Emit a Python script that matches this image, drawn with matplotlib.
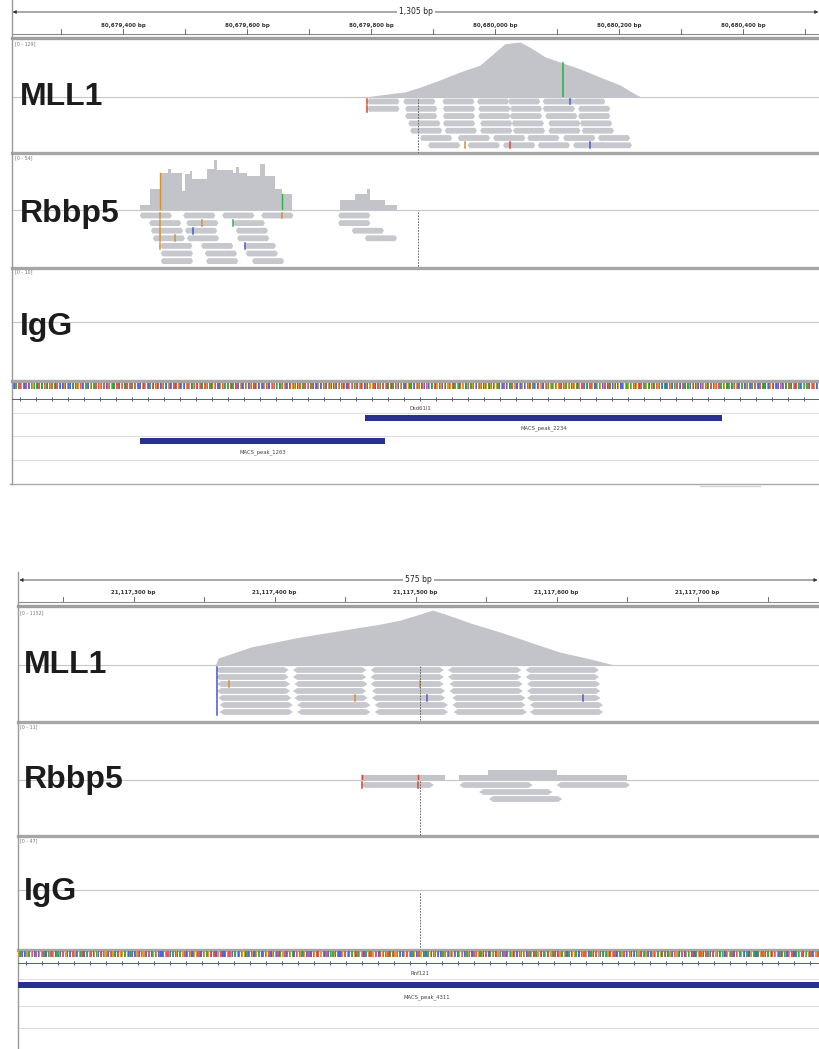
import numpy as np
import matplotlib.pyplot as plt
from matplotlib.patches import Polygon

W, H = 819, 1049
COV = "#c2c4c9"
READ = "#c6c8cd"
FEAT = "#27318f"
SEP = "#a6a6a6"
BASE = "#c6c6c6"
BASE_COLORS = {"A": "#3fa84a", "C": "#5566d4", "G": "#dc9a3a", "T": "#e25a5a"}
MM = {"r": "#e0452c", "b": "#4a5ad0", "g": "#2fb34a", "o": "#d8902e", "k": "#777777"}
SEQ = ("GATCCTGAAGTCATCGGTACCAGTTGCAAGCTTGGCACTAGCTGATCCAAGTTCGAGCTCAGG"
       "TCTAGACCTGTGAAGCATCCAGTCTGGACTTCAGAGCTCCAGTTGCATAGCTAGGTCAAGCTG")

# ---------------- top locus ----------------
TOP_START = 80_679_221
TOP_PPB = 0.62
top_span_label = "1,305 bp"
top_tick_labels = [80_679_400, 80_679_600, 80_679_800, 80_680_000, 80_680_200, 80_680_400]
top_ranges = ["[0 - 129]", "[0 - 54]", "[0 - 10]"]
top_range_max = [129, 54, 10]

# MLL1 coverage (bp offset from TOP_START, depth)
mll1_top_pos = [570, 600, 634, 658, 690, 723, 755, 779, 795, 819, 835, 860, 884, 916, 948, 981, 1005, 1015]
mll1_top_cov = [0, 6, 12, 23, 40, 59, 75, 105, 125, 129, 117, 94, 82, 66, 47, 28, 7, 0]
mll1_top_reads = [
    [573, 631, 694, 750, 800, 856, 905],
    [573, 634, 695, 752, 803, 856, 913],
    [634, 695, 752, 803, 860, 913],
    [639, 695, 755, 806, 865, 916],
    [642, 698, 755, 808, 865, 919],
    [658, 719, 776, 831, 889, 945],
    [671, 735, 792, 848, 905, 948],
]
mll1_top_snv = [(889, 80, "g")]
mll1_top_mm = [(573, 0, "r"), (573, 1, "r"), (900, 0, "b"), (731, 6, "o"), (803, 6, "r"), (932, 6, "b")]

# Rbbp5 coverage (step edges, depth)
rbbp5_top_edges = [206, 223, 239, 251, 256, 274, 279, 287, 291, 315, 325, 330, 356, 362, 366, 379, 400, 408, 424, 435, 452]
rbbp5_top_cov = [5, 22, 38, 43, 38, 20, 37, 41, 32, 43, 52, 42, 38, 45, 38, 35, 48, 35, 22, 17]
rbbp5_top_edges2 = [529, 553, 573, 577, 602, 621]
rbbp5_top_cov2 = [10, 17, 22, 10, 5]
rbbp5_top_reads = [
    [206, 276, 339, 402, 526],
    [221, 281, 356, 526],
    [224, 279, 361, 548],
    [227, 282, 363, 569],
    [239, 305, 374],
    [240, 311, 377],
    [240, 313, 387],
]
rbbp5_top_snv = [(435, 17, "g"), (239, 38, "o")]
rbbp5_top_mm = [(239, 0, "o"), (239, 1, "o"), (239, 2, "o"), (239, 3, "o"), (239, 4, "o"),
                (435, 0, "o"), (356, 1, "g"), (307, 1, "o"), (292, 2, "b"), (263, 3, "o"), (375, 4, "b")]
top_marker_bp = 655

top_gene = "Dsd61l1"
top_peaks = [("MACS_peak_2234", 569, 1145, 418, 428), ("MACS_peak_1263", 206, 602, 441, 452)]

# ---------------- bottom locus ----------------
BOT_START = 21_117_218
BOT_PPB = 1.41
bot_span_label = "575 bp"
bot_tick_labels = [21_117_300, 21_117_400, 21_117_500, 21_117_600, 21_117_700]
bot_ranges = ["[0 - 1152]", "[0 - 11]", "[0 - 47]"]
bot_range_max = [1152, 11, 47]

mll1_bot_pos = [140, 142, 165, 200, 235, 257, 271, 285, 294, 303, 321, 342, 363, 384, 406, 423]
mll1_bot_cov = [0, 146, 376, 585, 752, 857, 940, 1066, 1150, 1066, 878, 690, 481, 272, 125, 0]
mll1_bot_reads = [
    [140, 195, 250, 305, 360],
    [140, 195, 250, 305, 360],
    [141, 196, 250, 306, 361],
    [141, 195, 251, 306, 361],
    [142, 196, 251, 308, 361],
    [143, 198, 253, 308, 363],
    [143, 198, 253, 309, 363],
]
mll1_bot_mm = [(141, r, "b") for r in range(7)] + [(150, 2, "o"), (239, 4, "o"), (285, 2, "o"),
                                                   (290, 4, "b"), (401, 4, "b")]

rbbp5_bot_edges = [243, 303, 313, 333, 382, 432]
rbbp5_bot_cov = [1, 0, 1, 2, 1]
rbbp5_bot_reads = [[243, 313, 382], [327], [334]]
rbbp5_bot_snv = [(244, 1, "r"), (284, 1, "r")]
rbbp5_bot_mm = [(244, 0, "r"), (284, 0, "r")]
bot_marker_bp = 285

bot_gene = "Rnf121"
bot_peaks = [("MACS_peak_4311", -20, 600, 985, 997)]

READ_LEN = 52

fig = plt.figure(figsize=(W / 100, H / 100), dpi=100)
frame = fig.add_axes([0, 0, 1, 1])
frame.set_xlim(0, W)
frame.set_ylim(H, 0)
frame.axis("off")


def px_axes(x0, y0, x1, y1, start=None, ppb=None):
    ax = fig.add_axes([x0 / W, 1 - y1 / H, (x1 - x0) / W, (y1 - y0) / H])
    ax.set_facecolor("none")
    ax.axis("off")
    if start is not None:
        ax.set_xlim(start, start + (x1 - x0) / ppb)
    ax.set_ylim(y1, y0)
    return ax


def draw_ruler(x0, y0, y1, start, ppb, span_label, labels, minor):
    ax = px_axes(x0, y0, W, y1, start, ppb)
    lo, hi = ax.get_xlim()
    ya = y0 + 12
    ax.annotate("", xy=(lo + 1, ya), xytext=(hi - 1, ya),
                arrowprops=dict(arrowstyle="<|-|>", lw=0.6, color="#333333",
                                mutation_scale=5, shrinkA=0, shrinkB=0))
    ax.text((lo + hi) / 2, ya, span_label, ha="center", va="center", fontsize=5.5,
            color="#222222", bbox=dict(fc="white", ec="none", pad=1.5))
    for v in labels:
        ax.text(v, y0 + 25, f"{v:,} bp", ha="center", va="center", fontsize=4,
                weight="bold", color="#333333")
    first = np.ceil(lo / minor) * minor
    for v in np.arange(first, hi, minor):
        ax.plot([v, v], [y0 + 29, y0 + 33.5], color="#555555", lw=0.6)
    frame.plot([x0, W], [y0 + 33.5, y0 + 33.5], color="#8c8c8c", lw=0.8)
    frame.plot([x0, W], [y0 + 37.5, y0 + 37.5], color="#9e9e9e", lw=2.4)


def draw_reads(ax, start, rows, y_first, pitch, mism):
    half = 2.9
    for i, starts in enumerate(rows):
        yc = y_first + i * pitch
        y_a, y_b = yc - half, yc + half
        for s in starts:
            s = start + s
            e = s + READ_LEN
            tip = 3
            pts = [(s + tip, y_a), (e - tip, y_a), (e, yc), (e - tip, y_b), (s + tip, y_b), (s, yc)]
            ax.add_patch(Polygon(pts, closed=True, fc=READ, ec="none"))
    for pos, row, c in mism:
        yc = y_first + row * pitch
        ax.plot([start + pos] * 2, [yc - half, yc + half], color=MM[c], lw=1.1)


def draw_features(x0, start, ppb, y0, y1, gene, peaks, seq_y, gene_y):
    # sequence band
    ax = px_axes(x0, seq_y, W, seq_y + 6, start, ppb)
    lo, hi = ax.get_xlim()
    n = int(hi - lo) + 1
    seq = (SEQ * (n // len(SEQ) + 1))[:n]
    pos = lo + np.arange(n)
    ax.bar(pos, 6, bottom=seq_y, width=0.8, align="edge",
           color=[BASE_COLORS[b] for b in seq], linewidth=0)
    # gene line
    ax = px_axes(x0, y0, W, y1, start, ppb)
    ax.plot([lo, hi], [gene_y, gene_y], color="#4658c0", lw=0.7)
    arrows = np.arange(lo + 8 / ppb, hi, 16 / ppb)
    ax.plot(arrows, np.full(len(arrows), gene_y),
            ls="none", marker="|", ms=2.5, mew=0.7, color="#4658c0")
    ax.text(start + (420 - x0) / ppb, gene_y + 10, gene, ha="center", va="center",
            fontsize=3.8, color="#444444")
    for name, s, e, yb, yl in peaks:
        ax.broken_barh([(start + s, e - s)], (yb - 3, 6), facecolors=FEAT)
        ax.text(start + (s + max(e, 0)) / 2 if e - s < 700 else (lo + hi) / 2, yl, name,
                ha="center", va="center", fontsize=3.8, color="#444444")


def track_label(x, y, text):
    frame.text(x, y, text, fontsize=23, weight="bold", family=["Liberation Sans", "DejaVu Sans"],
               color="#1c1c1c", va="baseline", ha="left")


def range_label(x, y, text):
    frame.text(x, y, text, fontsize=3.4, color="#777777", va="center", ha="left")


# ================= TOP BLOCK =================
X0 = 12
S = TOP_START
draw_ruler(X0, 0, 38, S, TOP_PPB, top_span_label, top_tick_labels, 100)

# MLL1
ax = px_axes(X0, 42, W, 97, S, TOP_PPB)
ax.set_ylim(0, top_range_max[0])
ax.fill_between(S + np.array(mll1_top_pos), mll1_top_cov, color=COV, lw=0)
for p, v, c in mll1_top_snv:
    ax.plot([S + p, S + p], [0, v], color=MM[c], lw=1.2)
ax = px_axes(X0, 97, W, 153, S, TOP_PPB)
draw_reads(ax, S, mll1_top_reads, 101.5, 7.3, mll1_top_mm)
ax.plot([S + top_marker_bp] * 2, [99, 153], color="#555555", lw=0.6, ls=(0, (2, 1.5)))

# Rbbp5
ax = px_axes(X0, 158, W, 210, S, TOP_PPB)
ax.set_ylim(0, top_range_max[1])
for edges, cov in [(rbbp5_top_edges, rbbp5_top_cov), (rbbp5_top_edges2, rbbp5_top_cov2)]:
    ax.stairs(cov, S + np.array(edges), fill=True, color=COV, lw=0)
for p, v, c in rbbp5_top_snv:
    ax.plot([S + p, S + p], [0, v], color=MM[c], lw=1.0)
ax = px_axes(X0, 210, W, 268, S, TOP_PPB)
draw_reads(ax, S, rbbp5_top_reads, 215.5, 7.6, rbbp5_top_mm)
ax.plot([S + top_marker_bp] * 2, [212, 267], color="#555555", lw=0.6, ls=(0, (2, 1.5)))

draw_features(X0, S, TOP_PPB, 392, 460, top_gene, top_peaks, 383, 398.5)

for y, t in [(105, "MLL1"), (222, "Rbbp5"), (335, "IgG")]:
    track_label(20, y, t)
for (y, t) in zip([44, 158, 272], top_ranges):
    range_label(15, y, t)
for y in [97, 210, 322]:
    frame.plot([X0, W], [y, y], color=BASE, lw=0.8, zorder=0)
for y in [153, 268, 381]:
    frame.plot([X0, W], [y, y], color=SEP, lw=2.4)
for y in [412.5, 435.5, 459.5]:
    frame.plot([X0, W], [y, y], color="#dcdcdc", lw=0.7)
frame.plot([X0 - 2, W], [484, 484], color="#aaaaaa", lw=1.0)
frame.plot([700, 760], [486, 486], color="#d4d4d4", lw=1.0)
frame.plot([X0, X0], [0, 484], color="#9a9a9a", lw=1.0)

# ================= BOTTOM BLOCK =================
X0 = 18
S = BOT_START
draw_ruler(X0, 568, 606, S, BOT_PPB, bot_span_label, bot_tick_labels, 50)

ax = px_axes(X0, 610, W, 665, S, BOT_PPB)
ax.set_ylim(0, bot_range_max[0])
ax.fill_between(S + np.array(mll1_bot_pos), mll1_bot_cov, color=COV, lw=0)
ax = px_axes(X0, 665, W, 722, S, BOT_PPB)
draw_reads(ax, S, mll1_bot_reads, 670, 7.0, mll1_bot_mm)
ax.plot([S + bot_marker_bp] * 2, [666, 720], color="#555555", lw=0.6, ls=(0, (2, 1.5)))

ax = px_axes(X0, 725, W, 780, S, BOT_PPB)
ax.set_ylim(0, bot_range_max[1])
ax.stairs(rbbp5_bot_cov, S + np.array(rbbp5_bot_edges), fill=True, color=COV, lw=0)
for p, v, c in rbbp5_bot_snv:
    ax.plot([S + p, S + p], [0, v], color=MM[c], lw=1.0)
ax = px_axes(X0, 780, W, 836, S, BOT_PPB)
draw_reads(ax, S, rbbp5_bot_reads, 785, 7.0, rbbp5_bot_mm)
ax.plot([S + bot_marker_bp] * 2, [781, 835], color="#555555", lw=0.6, ls=(0, (2, 1.5)))

ax = px_axes(X0, 890, W, 950, S, BOT_PPB)
ax.plot([S + bot_marker_bp] * 2, [893, 949], color="#555555", lw=0.6, ls=(0, (2, 1.5)))

draw_features(X0, S, BOT_PPB, 958, 1010, bot_gene, bot_peaks, 951, 963)

for y, t in [(673, "MLL1"), (788, "Rbbp5"), (900, "IgG")]:
    track_label(24, y, t)
for (y, t) in zip([613, 727, 841], bot_ranges):
    range_label(20, y, t)
for y in [665, 780, 890]:
    frame.plot([X0, W], [y, y], color=BASE, lw=0.8, zorder=0)
for y in [722, 836, 950]:
    frame.plot([X0, W], [y, y], color=SEP, lw=2.4)
for y in [978.5, 1005.5, 1027.5]:
    frame.plot([X0, W], [y, y], color="#dcdcdc", lw=0.7)
frame.plot([X0, X0], [572, H], color="#9a9a9a", lw=1.0)

fig.savefig("out.png", dpi=100)
